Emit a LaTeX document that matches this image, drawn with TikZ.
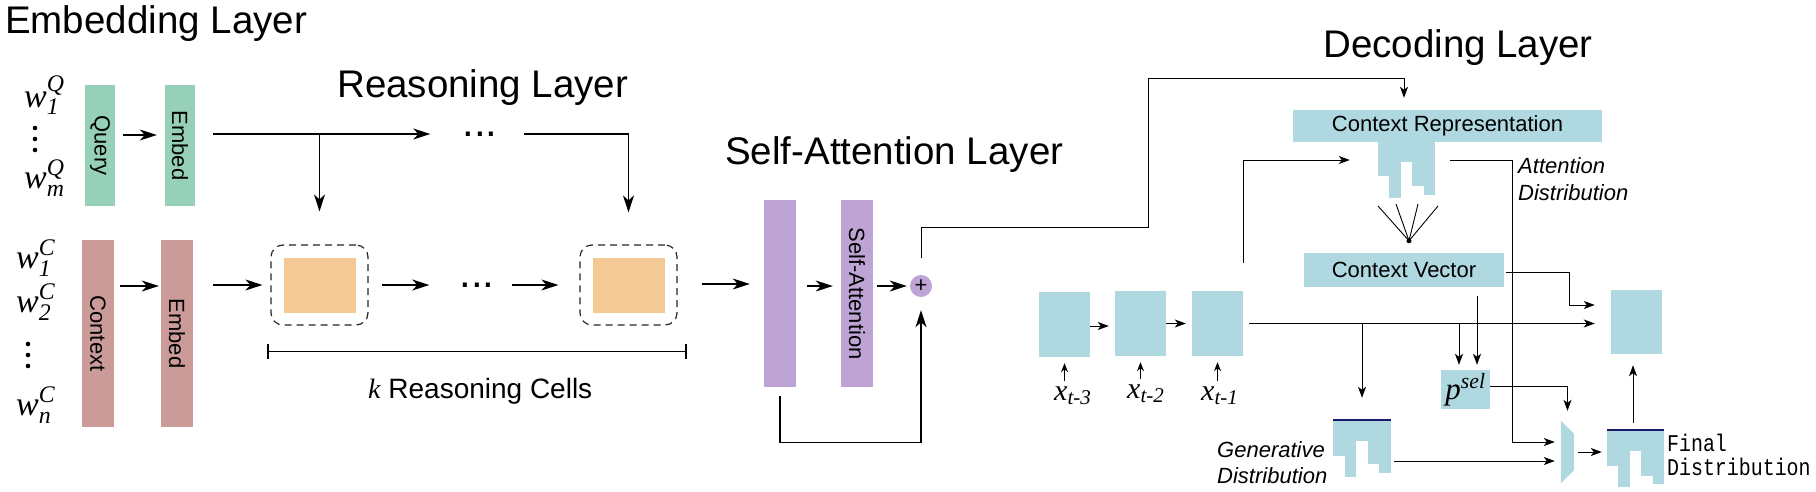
\documentclass[tikz,border=0pt]{standalone}
\usepackage{fix-cm}
\usepackage{amsmath}
\usepackage{fontspec}
\setmainfont{Liberation Sans}
\setmonofont{Liberation Mono}
\newfontfamily\tms{Liberation Serif}
\usetikzlibrary{arrows,arrows.meta,calc,positioning}

\definecolor{qgreen}{RGB}{150,208,184}
\definecolor{cred}{RGB}{202,155,152}
\definecolor{corange}{RGB}{244,201,150}
\definecolor{cpurple}{RGB}{190,164,213}
\definecolor{dblue}{RGB}{175,216,224}
\definecolor{dnavy}{RGB}{25,25,110}

\newcommand\tv[1]{\text{\tms\itshape #1}}

\tikzset{
    %Define standard arrow tip
    >={Stealth[length=17pt,width=11pt,inset=5pt]},
    % thick arrows of the encoder
    pil/.style={
           ->,
           line width=1.3pt,},
    % thin arrows of the decoder
    lil/.style={
           -{Stealth[length=11pt,width=8pt,inset=3pt]},
           line width=1pt,},
    sil/.style={
           -{Stealth[length=9pt,width=7pt,inset=3pt]},
           line width=1.2pt,},
    blk/.style={rectangle,inner sep=0pt,draw=none},
    cell/.style={rectangle,draw=black!85,line width=1.2pt,dash pattern=on 7pt off 5pt,
           rounded corners=12pt,minimum width=97pt,minimum height=80pt},
    title/.style={anchor=base west,inner sep=0pt,font=\fontsize{38.5}{44}\selectfont},
    lab/.style={inner sep=0pt,font=\fontsize{22}{26}\selectfont},
    ital/.style={anchor=base west,inner sep=0pt,font=\fontsize{22}{26}\selectfont\itshape},
    sym/.style={anchor=base west,inner sep=0pt,font=\fontsize{34}{36}\selectfont},
    dots/.style={inner sep=0pt,font=\fontsize{42}{44}\selectfont},
    mono/.style={anchor=base west,inner sep=0pt,xscale=0.83,font=\fontsize{24}{28}\selectfont\ttfamily},
}

\begin{document}
\begin{tikzpicture}[x=1pt,y=-1pt]
  \useasboundingbox (0,0) rectangle (1816,491);
  % layer titles
  \node[title] (embt) at (5,33) {Embedding Layer};
  \node[title] (reat) at (337,97) {Reasoning Layer};
  \node[title] (satt) at (725,164) {Self-Attention Layer};
  \node[title] (dect) at (1323,57) {Decoding Layer};

  % embedding layer
  \node[sym] (wq1) at (24,107) {$\tv{w}^{\tv{Q}}_{\tv{1}}$};
  \coordinate (vq) at (35,139);
  \foreach \d in {-11,0,11}
    \fill ($(vq)+(0,\d)$) circle (2.3pt);
  \node[sym] (wqm) at (24,188) {$\tv{w}^{\tv{Q}}_{\tv{m}}$};
  \node[sym] (wc1) at (16,268) {$\tv{w}^{\tv{C}}_{\tv{1}}$};
  \node[sym] (wc2) at (16,312) {$\tv{w}^{\tv{C}}_{\tv{2}}$};
  \coordinate (vc) at (28,355);
  \foreach \d in {-11,0,11}
    \fill ($(vc)+(0,\d)$) circle (2.3pt);
  \node[sym] (wcn) at (16,415) {$\tv{w}^{\tv{C}}_{\tv{n}}$};
  \node[blk,fill=qgreen,minimum width=30pt,minimum height=121pt,
        label={[lab,rotate=-90]center:Query}] (q) at (100,145.5) {};
  \node[blk,fill=qgreen,minimum width=30pt,minimum height=121pt,
        label={[lab,rotate=-90]center:Embed}] (qe) at (180,145.5) {};
  \node[blk,fill=cred,minimum width=32pt,minimum height=187pt,
        label={[lab,rotate=-90]center:Context}] (c) at (98,333.5) {};
  \node[blk,fill=cred,minimum width=32pt,minimum height=187pt,
        label={[lab,rotate=-90]center:Embed}] (ce) at (177,333.5) {};
  \draw[pil,shorten <=8pt,shorten >=8pt] ([yshift=10.5pt]q.east) -- ([yshift=10.5pt]qe.west);
  \draw[pil,shorten <=6pt,shorten >=2pt] ([yshift=47.5pt]c.east) -- ([yshift=47.5pt]ce.west);

  % reasoning layer
  \node[cell] (cell1) at (319.5,285) {};
  \node[blk,fill=corange,minimum width=72pt,minimum height=55pt] (core1) at (cell1) {};
  \node[cell] (cell2) at (628.5,285) {};
  \node[blk,fill=corange,minimum width=72pt,minimum height=55pt] (core2) at (cell2) {};
  \node[dots] (dotsA) at (480,134) {...};
  \node[dots] (dotsB) at (477,285) {...};
  \draw[pil,shorten <=18pt,shorten >=32pt] (qe.east |- dotsA) -- (dotsA.west);
  \draw[pil,shorten >=33pt] (cell1.north |- dotsA) -- (cell1.north);
  \draw[pil,shorten <=26pt,shorten >=32pt] (dotsA.east) -| (cell2.north);
  \draw[pil,shorten <=20pt,shorten >=8pt] (ce.east |- cell1.west) -- (cell1.west);
  \draw[pil,shorten <=13pt,shorten >=30pt] (cell1.east) -- (dotsB.west);
  \draw[pil,shorten <=17pt,shorten >=21pt] (dotsB.east) -- (cell2.west);
  \draw[line width=1.3pt,{Bar[width=15pt]}-{Bar[width=15pt]}]
    ([xshift=-3pt,yshift=-26pt]cell1.south west) -- ([xshift=9pt,yshift=-26pt]cell2.south east);
  \node[anchor=base west,inner sep=0pt,font=\fontsize{28}{30}\selectfont] (kc) at (368,398)
    {{\tms\itshape k} Reasoning Cells};

  % self-attention layer
  \node[blk,fill=cpurple,minimum width=32pt,minimum height=187pt] (pa) at (780,293.5) {};
  \node[blk,fill=cpurple,minimum width=32pt,minimum height=187pt,
        label={[lab,rotate=-90]center:Self-Attention}] (sa) at (857,293.5) {};
  \node[circle,fill=cpurple,minimum size=22pt,inner sep=0pt,font=\fontsize{22}{22}\selectfont] (plus) at (921,286) {+};
  \draw[pil,shorten <=24pt,shorten >=14pt] ([yshift=1pt]cell2.east) -- ([yshift=1pt]cell2.east -| pa.west);
  \draw[pil,shorten <=11pt,shorten >=8pt] (pa.east |- plus) -- (sa.west |- plus);
  \draw[pil,shorten <=4pt,shorten >=3pt] (sa.east |- plus) -- (plus.west);
  \draw[pil,shorten <=9pt,shorten >=13pt] (pa.south) -- ++(0,55) -| (plus.south);

  % decoding layer
  \node[blk,fill=dblue,minimum width=309pt,minimum height=32pt,lab] (cr) at (1447.5,126) {Context Representation};
  \node[blk,minimum width=57pt,minimum height=56pt] (att) at (1406.5,170) {};
  \foreach \i/\b in {0/176,1/198,2/162,3/186,4/195}
    \fill[dblue] ({1378+11.4*\i},142) rectangle ({1378+11.4*(\i+1)},\b);
  \node[ital] (atd1) at (1518,173) {Attention};
  \node[ital] (atd2) at (1518,200) {Distribution};
  \node[blk,fill=dblue,minimum width=200pt,minimum height=34pt,lab] (cv) at (1404,270) {Context Vector};
  \coordinate (fan) at ([xshift=5pt,yshift=12pt]cv.north);
  \fill (fan) circle (2.5pt);
  \foreach \fx/\fy in {1378/206,1396/204,1418/204,1438/206}
    \draw[line width=0.9pt] (fan) -- (\fx,\fy);
  \node[blk,fill=dblue,minimum width=51pt,minimum height=65pt] (x3) at (1064.5,324.5) {};
  \node[blk,fill=dblue,minimum width=51pt,minimum height=65pt] (x2) at (1140.5,323.5) {};
  \node[blk,fill=dblue,minimum width=51pt,minimum height=65pt] (x1) at (1217.5,323.5) {};
  \node[sym,font=\fontsize{30}{32}\selectfont] (xl3) at (1054,400) {$\tv{x}_{\tv{t-3}}$};
  \node[sym,font=\fontsize{30}{32}\selectfont] (xl2) at (1127,398) {$\tv{x}_{\tv{t-2}}$};
  \node[sym,font=\fontsize{30}{32}\selectfont] (xl1) at (1201,400) {$\tv{x}_{\tv{t-1}}$};
  \node[blk,fill=dblue,minimum width=51pt,minimum height=64pt] (out) at (1636.5,322) {};
  \node[blk,fill=dblue,minimum width=49pt,minimum height=39pt,font=\fontsize{31}{32}\selectfont] (psel) at (1465.5,389.5)
    {$\tv{p}^{\tv{sel}}$};
  \node[blk,minimum width=58pt,minimum height=57pt] (gen) at (1362,448.5) {};
  \foreach \i/\b in {0/456,1/477,2/441,3/464,4/473}
    \fill[dblue] ({1333+11.6*\i},420) rectangle ({1333+11.6*(\i+1)},\b);
  \draw[dnavy,line width=1.5pt] (gen.north west) -- (gen.north east);
  \node[ital] (gd1) at (1217,457) {Generative};
  \node[ital] (gd2) at (1217,483) {Distribution};
  \node[blk,minimum width=13pt,minimum height=62pt] (trap) at (1567.5,452) {};
  \fill[dblue] (trap.north west) -- (trap.south west) -- ([yshift=13pt]trap.south east)
    -- ([yshift=-13pt]trap.north east) -- cycle;
  \node[blk,minimum width=57pt,minimum height=57pt] (fin) at (1635.5,458.5) {};
  \foreach \i/\b in {0/466,1/487,2/451,3/476,4/484}
    \fill[dblue] ({1607+11.4*\i},430) rectangle ({1607+11.4*(\i+1)},\b);
  \draw[dnavy,line width=1.5pt] (fin.north west) -- (fin.north east);
  \node[mono] (fd1) at (1667,451) {Final};
  \node[mono] (fd2) at (1667,475) {Distribution};

  % decoder connections
  \coordinate (up) at (1148,78);
  \draw[lil,shorten <=17pt,shorten >=12pt] (plus.north) -- ++(0,-47) -| (up) -| ([xshift=-43.5pt]cr.north);
  \draw[lil,shorten <=28pt,shorten >=28pt] (x1.north east) |- ([yshift=10pt]att.west);
  \draw[lil,shorten <=15pt,shorten >=6pt] ([yshift=10pt]att.east) -| ([xshift=-48pt,yshift=10pt]trap.west)
    -- ([yshift=10pt]trap.west);
  \draw[lil,shorten <=2pt,shorten >=16pt] ([yshift=-2pt]cv.east) -| ([xshift=-41pt,yshift=17pt]out.west)
    -- ([yshift=17pt]out.west);
  \draw[lil,shorten >=6pt] ([yshift=-1.5pt]x3.east) -- ([yshift=-1.5pt]x3.east -| x2.west);
  \draw[lil,shorten >=6pt] (x2.east) -- (x2.east -| x1.west);
  \draw[lil,line width=1.3pt,shorten <=6pt,shorten >=16pt] (x1.east) -- (x1.east -| out.west);
  \draw[lil,shorten >=22pt] (gen.north |- x1.east) -- (gen.north);
  \draw[lil,shorten >=5pt] ([xshift=-6.5pt]psel.north |- x1.east) -- ([xshift=-6.5pt]psel.north);
  \draw[lil,shorten <=9pt,shorten >=5pt] ([xshift=73pt]cv.south) -- ([xshift=73pt]cv.south |- psel.north);
  \draw[lil,shorten >=10pt] ([yshift=3.5pt]psel.east) -| (trap.north);
  \draw[lil,shorten <=3pt,shorten >=6pt] ([yshift=-12.5pt]gen.east) -- ([yshift=-12.5pt]gen.east -| trap.west);
  \draw[lil,shorten <=4pt,shorten >=5pt] (trap.east) -- (trap.east -| fin.west);
  \draw[lil,shorten <=7pt,shorten >=11pt] ([xshift=-2.5pt]fin.north) -- ([xshift=-2.5pt]fin.north |- out.south);
  \draw[sil,shorten <=5pt,shorten >=6pt] (x3.south |- xl3.north) -- (x3.south);
  \draw[sil,shorten <=5pt,shorten >=6pt] (x2.south |- xl2.north) -- (x2.south);
  \draw[sil,shorten <=5pt,shorten >=6pt] (x1.south |- xl1.north) -- (x1.south);
\end{tikzpicture}
\end{document}
